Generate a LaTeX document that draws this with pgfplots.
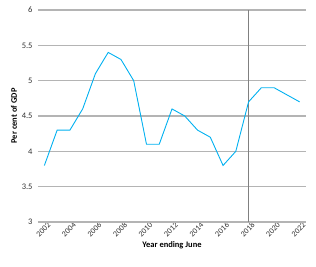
\documentclass[border=0pt]{standalone}
\usepackage{pgfplots}
\pgfplotsset{compat=1.18}
\usepackage{fontspec}
\setmainfont{Carlito}
\definecolor{linec}{RGB}{0,176,240}
\definecolor{tickc}{RGB}{50,50,50}
\definecolor{gridc}{RGB}{180,180,180}
\begin{document}
\begin{tikzpicture}
\begin{axis}[
  scale only axis,
  width=268bp, height=212bp,
  xmin=2001.5, xmax=2022.5,
  ymin=3, ymax=6,
  xtick={2002,2004,...,2022},
  ytick={3,3.5,...,6},
  yticklabels={3,3.5,4,4.5,5,5.5,6},
  xticklabel style={rotate=45, anchor=north east, font=\fontsize{8}{9}\selectfont, text=tickc, inner sep=1pt, xshift=3pt, yshift=-1pt},
  yticklabel style={font=\fontsize{8.5}{10}\selectfont, text=tickc, xshift=-2pt},
  /pgf/number format/assume math mode=true,
  x tick label style={/pgf/number format/1000 sep={}},
  axis line style={white, opacity=0},
  tick style={white, opacity=0},
  ymajorgrids=true,
  y grid style={gridc, opacity=1, line width=1.2pt},
  xlabel={\textbf{Year ending June}},
  ylabel={\textbf{Per cent of GDP}},
  xlabel style={font=\fontsize{8.5}{10}\selectfont, yshift=1pt, text=black},
  ylabel style={font=\fontsize{8.5}{10}\selectfont, yshift=-2pt, text=black},
  clip=false,
]
\addplot[gridc, line width=1.2pt, forget plot] coordinates {(2001.5,3) (2022.5,3)};
\addplot[gray, line width=0.7pt] coordinates {(2018,3) (2018,6)};
\addplot[linec, line width=0.9pt, mark=none] coordinates {
(2002,3.8) (2003,4.3) (2004,4.3) (2005,4.6) (2006,5.1) (2007,5.4) (2008,5.3)
(2009,5.0) (2010,4.1) (2011,4.1) (2012,4.6) (2013,4.5) (2014,4.3) (2015,4.2)
(2016,3.8) (2017,4.0) (2018,4.7) (2019,4.9) (2020,4.9) (2021,4.8) (2022,4.7)};
\coordinate (bl) at (rel axis cs:0,0);
\coordinate (tr) at (rel axis cs:1,1);
\end{axis}
\pgfresetboundingbox
\path ([shift={(-38bp,-45bp)}]bl) rectangle ([shift={(10bp,10bp)}]tr);
\end{tikzpicture}
\end{document}
